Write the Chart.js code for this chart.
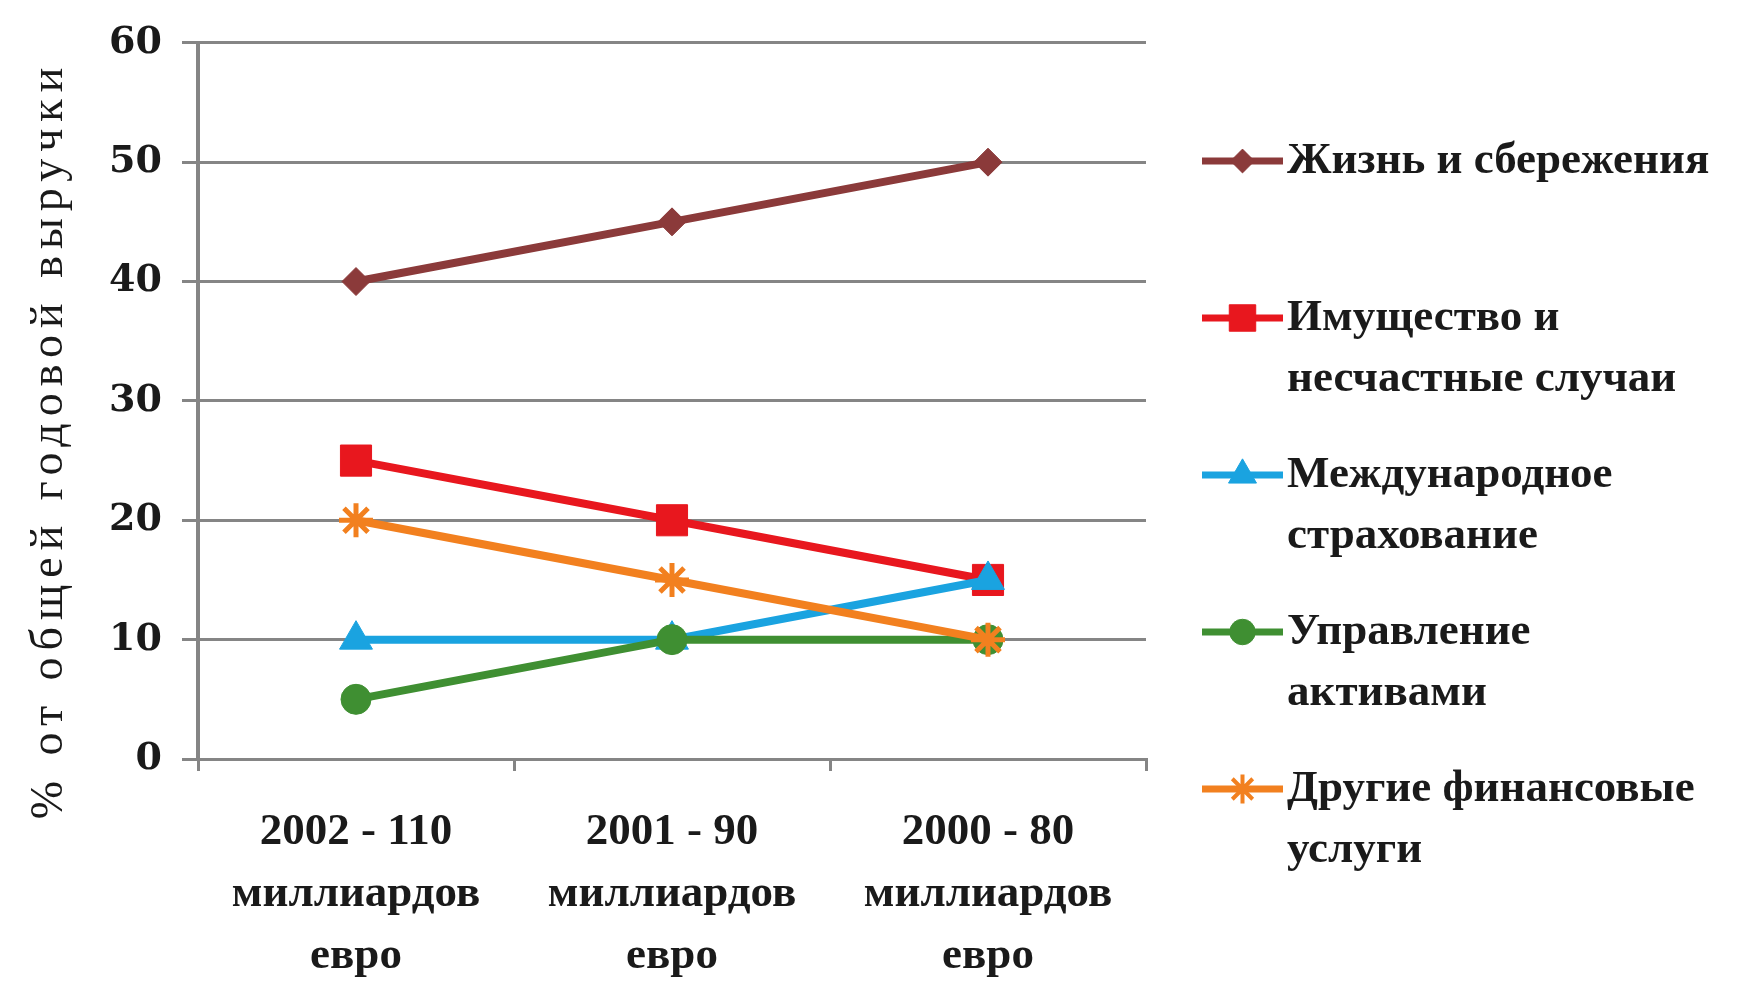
<!DOCTYPE html>
<html>
<head>
<meta charset="utf-8">
<script src="https://cdn.jsdelivr.net/npm/chart.js@4.4.1/dist/chart.umd.min.js"></script>
<style>
  html, body { margin: 0; padding: 0; background: #fff; }
  #wrap { width: 1742px; height: 984px; position: relative; }
</style>
</head>
<body>
<div id="wrap"><canvas id="chart" width="1742" height="984"></canvas></div>
<script>
// data
const categories = [
  ['2002 - 110', 'миллиардов', 'евро'],
  ['2001 - 90', 'миллиардов', 'евро'],
  ['2000 - 80', 'миллиардов', 'евро']
];
const seriesNames = [
  ['Жизнь и сбережения'],
  ['Имущество и', 'несчастные случаи'],
  ['Международное', 'страхование'],
  ['Управление', 'активами'],
  ['Другие финансовые', 'услуги']
];
const lifeSavings = [40, 45, 50];
const propertyCasualty = [25, 20, 15];
const internationalIns = [10, 10, 15];
const assetManagement = [5, 10, 10];
const otherFinancial = [20, 15, 10];
const yTicks = [0, 10, 20, 30, 40, 50, 60];
const yTitle = '% от общей годовой выручки';

const serif = "'Liberation Serif', 'DejaVu Serif', serif";
const gridGray = '#858585';
const ink = '#1a1a1a';

const styles = [
  { color: '#8B3A3A', point: 'rectRot', r: 14 },
  { color: '#E8171E', point: 'rect', r: 22 },
  { color: '#1AA3E0', point: 'triangle', r: 19 },
  { color: '#3F8F32', point: 'circle', r: 15 },
  { color: '#F2801F', point: 'star', r: 17 }
];
const values = [lifeSavings, propertyCasualty, internationalIns, assetManagement, otherFinancial];

// later series sit on top, like the original
const datasets = values.map((v, i) => ({
  label: seriesNames[i].join(' '),
  data: v,
  order: values.length - i,
  borderColor: styles[i].color,
  backgroundColor: styles[i].color,
  pointBackgroundColor: styles[i].color,
  pointBorderColor: styles[i].color,
  pointStyle: styles[i].point,
  pointRadius: styles[i].r,
  pointBorderWidth: styles[i].point === 'star' ? 5 : 1,
  borderWidth: 8,
  tension: 0
}));

// y title with wide letter spacing + legend beside the plot
const sideLegend = {
  id: 'sideLegend',
  afterDraw(chart) {
    const ctx = chart.ctx;
    ctx.save();
    ctx.translate(50, 440);
    ctx.rotate(-Math.PI / 2);
    ctx.font = '46px ' + serif;
    ctx.letterSpacing = '7px';
    ctx.fillStyle = ink;
    ctx.textAlign = 'center';
    ctx.textBaseline = 'middle';
    ctx.fillText(yTitle, 0, 0);
    ctx.restore();

    ctx.save();
    const x0 = 1202, x1 = 1283, tx = 1287;
    seriesNames.forEach((lines, i) => {
      const y = 161 + i * 157;
      const st = styles[i];
      ctx.strokeStyle = st.color;
      ctx.lineWidth = 7;
      ctx.beginPath();
      ctx.moveTo(x0, y);
      ctx.lineTo(x1, y);
      ctx.stroke();
      ctx.fillStyle = st.color;
      ctx.lineWidth = st.point === 'star' ? 4 : 1;
      Chart.helpers.drawPoint(ctx, { pointStyle: st.point, radius: st.r * 0.85, rotation: 0, borderWidth: ctx.lineWidth }, (x0 + x1) / 2, y);
      ctx.fillStyle = ink;
      ctx.font = 'bold 45px ' + serif;
      ctx.textBaseline = 'middle';
      ctx.textAlign = 'left';
      lines.forEach((t, k) => ctx.fillText(t, tx, y + k * 61));
    });
    ctx.restore();
  }
};

new Chart(document.getElementById('chart'), {
  type: 'line',
  data: { labels: categories, datasets: datasets },
  plugins: [sideLegend],
  options: {
    responsive: false,
    animation: false,
    layout: { padding: { top: 42, right: 596, left: 0, bottom: 0 } },
    plugins: { legend: { display: false }, tooltip: { enabled: false } },
    scales: {
      x: {
        offset: true,
        grid: { offset: true, drawOnChartArea: false, drawTicks: true, tickLength: 12, color: gridGray, lineWidth: 3 },
        border: { color: gridGray, width: 3 },
        ticks: { color: ink, font: { family: serif, size: 45, weight: 'bold', lineHeight: 1.38 }, padding: 30, maxRotation: 0, autoSkip: false },
        afterFit(scale) { scale.height = 225; }
      },
      y: {
        min: 0, max: 60,
        afterBuildTicks(scale) { scale.ticks = yTicks.map(v => ({ value: v })); },
        grid: { color: gridGray, lineWidth: 3, tickLength: 16 },
        border: { color: gridGray, width: 4 },
        ticks: { color: ink, font: { family: "'DejaVu Serif', serif", size: 38, weight: 'bold' }, padding: 20 },
        title: { display: false },
        afterFit(scale) { scale.width = 198; }
      }
    }
  }
});
</script>
</body>
</html>
